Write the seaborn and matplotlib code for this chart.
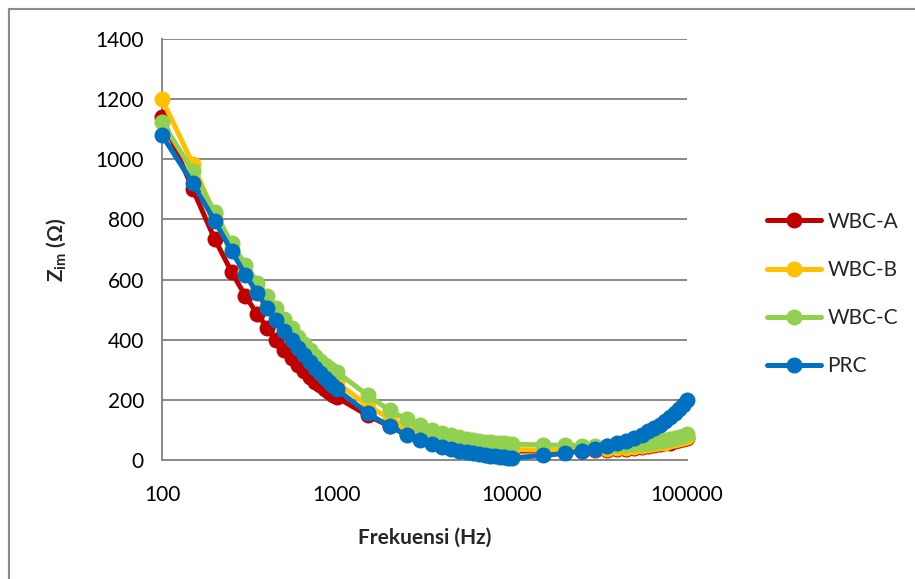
import numpy as np
import pandas as pd
import matplotlib
matplotlib.use("Agg")
import matplotlib.pyplot as plt
from matplotlib.patches import Rectangle
import seaborn as sns

# Measurement frequencies (Hz)
freq = [100, 150, 200, 250, 300, 350, 400, 450, 500, 550, 600, 650, 700, 750, 800, 850, 900, 950, 1000,
        1500, 2000, 2500, 3000, 3500, 4000, 4500, 5000, 5500, 6000, 6500, 7000, 7500, 8000, 8500, 9000, 9500, 10000,
        15000, 20000, 25000, 30000, 35000, 40000, 45000, 50000, 55000, 60000, 65000, 70000, 75000, 80000, 85000,
        90000, 95000, 100000]

# Imaginary impedance (ohm) for each sample
wbc_a = [1140, 900, 735, 625, 545, 485, 440, 400, 365, 340, 315, 295, 275, 260, 248, 236, 225, 215, 208,
         148, 112, 88, 72, 62, 55, 50, 46, 43, 40, 38, 36, 35, 34, 33, 32, 31, 30,
         30, 30, 31, 32, 34, 36, 38, 40, 43, 46, 49, 52, 55, 58, 62, 65, 69, 73]
wbc_b = [1200, 985, 815, 705, 625, 565, 515, 475, 440, 410, 385, 360, 340, 322, 306, 292, 280, 268, 258,
         180, 138, 110, 92, 80, 71, 64, 58, 54, 50, 47, 44, 42, 40, 38, 37, 36, 35,
         33, 33, 34, 35, 37, 39, 41, 43, 46, 49, 52, 55, 58, 62, 66, 70, 74, 78]
wbc_c = [1125, 960, 825, 720, 650, 590, 545, 505, 470, 440, 410, 385, 365, 345, 330, 315, 305, 296, 292,
         215, 165, 135, 115, 100, 90, 82, 76, 71, 67, 63, 61, 59, 57, 56, 55, 54, 53,
         50, 49, 48, 48, 48, 49, 50, 52, 54, 57, 60, 63, 66, 70, 73, 77, 81, 85]
prc = [1080, 920, 795, 695, 615, 555, 505, 465, 430, 400, 372, 348, 325, 305, 288, 272, 258, 245, 235,
       155, 112, 82, 65, 52, 43, 36, 30, 26, 22, 19, 16, 14, 12, 10, 9, 8, 7,
       15, 22, 30, 38, 46, 55, 64, 74, 84, 95, 106, 118, 130, 142, 155, 168, 183, 198]

series_names = ["WBC-A", "WBC-B", "WBC-C", "PRC"]
series_colors = ["#C00000", "#FFC000", "#92D050", "#0070C0"]
y_ticks = [0, 200, 400, 600, 800, 1000, 1200, 1400]
x_ticks = [100, 1000, 10000, 100000]
x_tick_labels = ["100", "1000", "10000", "100000"]

df = pd.concat([
    pd.DataFrame({"freq": freq, "zim": vals, "sample": name})
    for name, vals in zip(series_names, [wbc_a, wbc_b, wbc_c, prc])
], ignore_index=True)

sns.set_style("white")
plt.rcParams["font.family"] = ["Lato", "DejaVu Sans"]
plt.rcParams["mathtext.fontset"] = "custom"
plt.rcParams["mathtext.rm"] = "Lato:bold"
plt.rcParams["mathtext.bf"] = "Lato:bold"
plt.rcParams["mathtext.it"] = "Lato:bold"
plt.rcParams["mathtext.fallback"] = "stixsans"

FS = 15
W, H = 915, 579
fig = plt.figure(figsize=(W / 100, H / 100), dpi=100)
ax = fig.add_axes([162 / W, 1 - 460 / H, (687 - 162) / W, (460 - 39) / H])

sns.lineplot(data=df, x="freq", y="zim", hue="sample", hue_order=series_names,
             palette=series_colors, marker="o", markersize=11.5, markeredgewidth=0,
             linewidth=3.6, dashes=False, legend=False, ax=ax, zorder=3)

ax.set_xscale("log")
ax.set_xlim(100, 100000)
ax.set_ylim(0, 1400)
ax.set_yticks(y_ticks)
ax.set_yticklabels([str(t) for t in y_ticks])
ax.set_xticks(x_ticks)
ax.set_xticklabels(x_tick_labels)
ax.xaxis.set_minor_locator(matplotlib.ticker.NullLocator())

grid_col = "#898989"
ax.yaxis.grid(True, color=grid_col, linewidth=1.4)
ax.xaxis.grid(False)
for s in ["top", "right"]:
    ax.spines[s].set_visible(False)
for s in ["left", "bottom"]:
    ax.spines[s].set_color(grid_col)
    ax.spines[s].set_linewidth(1.4)
ax.tick_params(axis="both", which="major", length=5, width=1.4, color=grid_col,
               labelsize=FS, labelcolor="black", direction="out")
ax.tick_params(axis="y", pad=8)
ax.tick_params(axis="x", pad=13)
for ln in ax.lines:
    ln.set_clip_on(False)

ax.set_xlabel("Frekuensi (Hz)", fontsize=FS, fontweight="bold", labelpad=16)
ax.set_ylabel(r"$\mathbf{Z_{im}}$ (Ω)", fontsize=FS, fontweight="bold", labelpad=20)

handles = ax.lines[:4]
leg = fig.legend(handles, series_names, loc="center left",
                 bbox_to_anchor=(767 / W, 1 - 294 / H), bbox_transform=fig.transFigure,
                 frameon=False, fontsize=FS, handlelength=2.6, handletextpad=0.3,
                 labelspacing=1.36, borderpad=0, borderaxespad=0)

# Chart area border
fig.add_artist(Rectangle((9 / W, -0.05), 1.1, 1 - 9 / H + 0.05, transform=fig.transFigure,
                         fill=False, edgecolor="#8a8a8a", linewidth=1.5))

fig.savefig("out.png", dpi=100)
